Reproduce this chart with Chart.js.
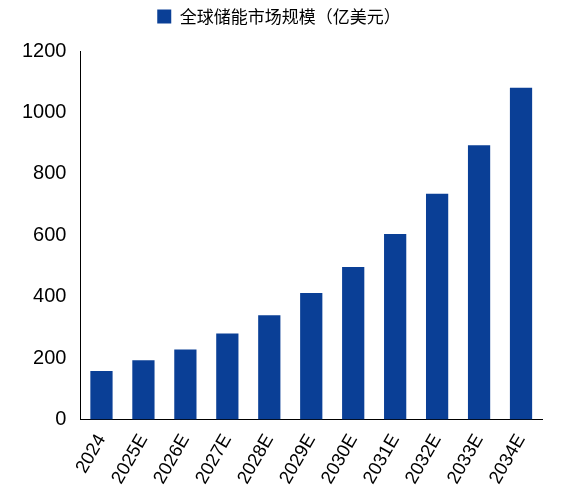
<!DOCTYPE html><html><head><script src="https://cdn.jsdelivr.net/npm/chart.js"></script>
<style>body{margin:0;background:#fff}#w{width:586px;height:500px}</style></head><body><div id="w"><canvas id="c"></canvas></div>
<script>
const categories=["2024","2025E","2026E","2027E","2028E","2029E","2030E","2031E","2032E","2033E","2034E"];
const values=[158,193,228,280,340,412,497,604,735,893,1080];
const seriesName="全球储能市场规模（亿美元）";
const legendSpace={id:'legendSpace',beforeInit(chart){const f=chart.legend.fit;chart.legend.fit=function(){f.bind(chart.legend)();this.height+=16;};}};
new Chart(document.getElementById('c'),{type:'bar',
data:{labels:categories,datasets:[{label:seriesName,data:values,backgroundColor:'#0a3f96',barPercentage:0.53,categoryPercentage:1}]},
plugins:[legendSpace],
options:{responsive:true,maintainAspectRatio:false,animation:false,
layout:{padding:{left:16,right:44,top:0,bottom:9}},
plugins:{legend:{labels:{boxWidth:14,boxHeight:14,padding:8,font:{size:17,family:'Noto Sans CJK SC'},color:'#000'}}},
scales:{x:{grid:{display:false},border:{color:'#000'},ticks:{maxRotation:60,minRotation:60,color:'#000',padding:3,font:{size:18.5,family:'Liberation Sans'}}},
y:{min:0,max:1200,ticks:{stepSize:200,color:'#000',padding:6,callback:v=>String(v),font:{size:20,family:'Liberation Sans'}},grid:{display:false,drawTicks:true},border:{color:'#000'}}}}});
</script></body></html>
